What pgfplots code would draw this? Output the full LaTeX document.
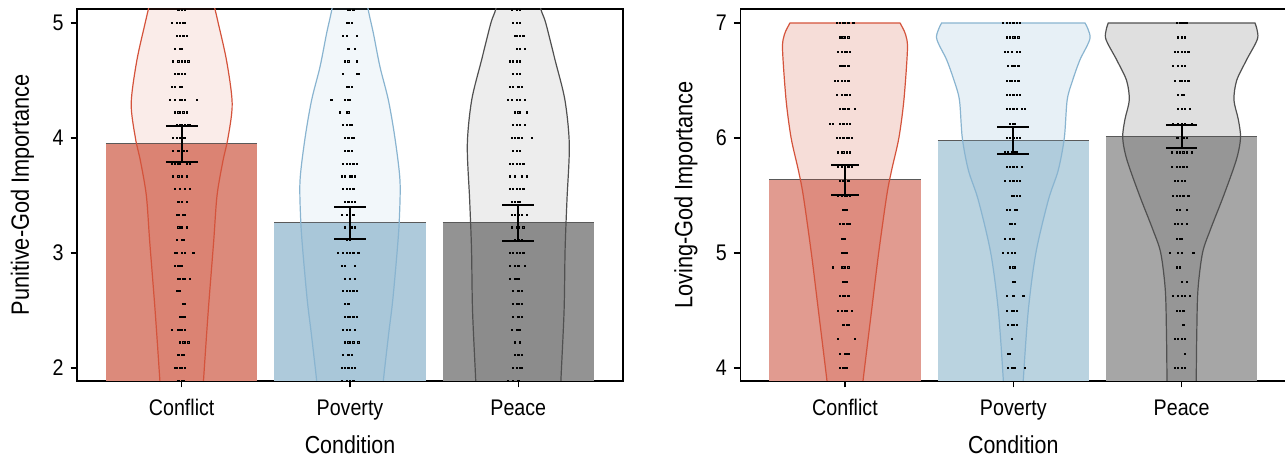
\documentclass[border=0pt]{standalone}
\usepackage{fontspec}
\setmainfont{Liberation Sans}[FakeStretch=0.87]
\usepackage{pgfplots}
\usepackage{pgfplotstable}
\pgfplotsset{compat=1.18}

\definecolor{lcbar}{HTML}{DC8A7B}
\definecolor{lpbar}{HTML}{AECADB}
\definecolor{lebar}{HTML}{939393}
\definecolor{rcbar}{HTML}{E19B90}
\definecolor{rpbar}{HTML}{BAD3E0}
\definecolor{rebar}{HTML}{A6A6A6}
\definecolor{cedge}{HTML}{D4533B}
\definecolor{pedge}{HTML}{89B4D0}
\definecolor{eedge}{HTML}{505050}

% ---------- violin outlines (x y) ----------
\pgfplotstableread{
x y
-0.110 1.4
-0.122 1.7
-0.130 1.9
-0.158 2.5
-0.190 3.1
-0.210 3.5
-0.245 3.8
-0.275 4.0
-0.300 4.3
-0.267 4.67
-0.217 5.0
-0.198 5.12
-0.170 5.3
-0.150 5.6
0.150 5.6
0.170 5.3
0.198 5.12
0.217 5.0
0.267 4.67
0.300 4.3
0.275 4.0
0.245 3.8
0.210 3.5
0.190 3.1
0.158 2.5
0.130 1.9
0.122 1.7
0.110 1.4
}\vLC
\pgfplotstableread{
x y
0.820 1.4
0.810 1.7
0.802 1.887
0.770 2.3
0.746 2.59
0.719 3.03
0.707 3.29
0.703 3.63
0.733 4.0
0.772 4.33
0.822 4.62
0.861 4.91
0.891 5.11
0.910 5.3
0.925 5.6
1.075 5.6
1.090 5.3
1.109 5.11
1.139 4.91
1.178 4.62
1.228 4.33
1.267 4.0
1.297 3.63
1.293 3.29
1.281 3.03
1.254 2.59
1.230 2.3
1.198 1.887
1.190 1.7
1.180 1.4
}\vLP
\pgfplotstableread{
x y
1.755 1.4
1.750 1.7
1.747 1.887
1.728 2.5
1.722 3.03
1.711 3.46
1.697 3.94
1.723 4.33
1.782 4.68
1.837 5.0
1.866 5.12
1.890 5.3
1.910 5.6
2.090 5.6
2.110 5.3
2.134 5.12
2.163 5.0
2.218 4.68
2.277 4.33
2.303 3.94
2.289 3.46
2.278 3.03
2.272 2.5
2.253 1.887
2.250 1.7
2.245 1.4
}\vLE
\pgfplotstableread{
x y
-0.327 7.0
-0.360 6.9
-0.371 6.77
-0.350 6.33
-0.320 6.0
-0.277 5.72
-0.248 5.5
-0.200 5.0
-0.158 4.5
-0.107 3.887
-0.095 3.7
-0.080 3.4
0.080 3.4
0.095 3.7
0.107 3.887
0.158 4.5
0.200 5.0
0.248 5.5
0.277 5.72
0.320 6.0
0.350 6.33
0.371 6.77
0.360 6.9
0.327 7.0
}\vRC
\pgfplotstableread{
x y
0.574 7.0
0.544 6.87
0.604 6.68
0.648 6.5
0.680 6.33
0.697 6.0
0.733 5.72
0.792 5.46
0.866 5.0
0.911 4.5
0.941 3.887
0.945 3.7
0.950 3.4
1.050 3.4
1.055 3.7
1.059 3.887
1.089 4.5
1.134 5.0
1.208 5.46
1.267 5.72
1.303 6.0
1.320 6.33
1.352 6.5
1.396 6.68
1.456 6.87
1.426 7.0
}\vRP
\pgfplotstableread{
x y
1.564 7.0
1.548 6.87
1.614 6.68
1.673 6.5
1.689 6.33
1.663 6.16
1.650 6.0
1.675 5.81
1.750 5.5
1.830 5.2
1.876 5.0
1.903 4.68
1.910 4.3
1.913 3.887
1.913 3.4
2.087 3.4
2.087 3.887
2.090 4.3
2.097 4.68
2.124 5.0
2.170 5.2
2.250 5.5
2.325 5.81
2.350 6.0
2.337 6.16
2.311 6.33
2.327 6.5
2.386 6.68
2.452 6.87
2.436 7.0
}\vRE

% ---------- individual responses: level y, horizontal jitter offsets ----------
\pgfplotstableread{
y a b c d e f
1.889 -0.02 0.00 0.01 nan nan nan
2.000 -0.04 -0.03 -0.01 0.00 0.02 nan
2.111 -0.02 0.00 0.01 nan nan nan
2.222 -0.01 0.01 0.02 0.04 nan nan
2.333 -0.06 -0.02 -0.01 0.00 0.02 nan
2.444 -0.01 0.00 0.01 0.02 nan nan
2.556 0.01 0.02 nan nan nan nan
2.667 -0.03 -0.02 -0.01 nan nan nan
2.778 -0.02 -0.01 0.01 0.02 0.05 nan
2.889 -0.04 -0.02 -0.01 0.00 nan nan
3.000 -0.04 -0.03 0.00 0.02 0.07 nan
3.111 -0.03 0.00 0.01 nan nan nan
3.222 -0.02 -0.01 0.00 0.03 nan nan
3.333 -0.03 -0.02 0.01 0.02 nan nan
3.444 -0.02 0.00 0.03 nan nan nan
3.556 -0.04 -0.01 0.02 0.05 nan nan
3.667 -0.05 -0.02 0.00 0.03 nan nan
3.778 -0.06 -0.04 -0.02 -0.01 0.03 0.05
3.889 -0.05 -0.02 0.00 0.01 0.03 nan
4.000 -0.05 -0.03 -0.01 0.01 0.02 nan
4.111 -0.03 -0.01 0.00 0.02 0.04 0.05
4.222 -0.04 -0.02 -0.01 0.01 0.03 nan
4.333 -0.07 -0.04 -0.01 0.00 0.02 0.09
4.444 -0.06 -0.04 -0.01 0.00 nan nan
4.556 -0.04 -0.02 0.00 0.02 nan nan
4.667 -0.05 -0.02 0.00 0.02 0.04 nan
4.778 -0.04 -0.01 0.00 nan nan nan
4.889 -0.03 -0.01 0.01 0.03 nan nan
5.000 -0.06 -0.03 -0.01 0.01 0.02 nan
5.111 -0.02 0.00 0.02 nan nan nan
}\dLC
\pgfplotstableread{
y a b c d e f
1.889 -0.05 -0.02 0.00 0.02 nan nan
2.000 -0.05 -0.03 -0.01 0.01 0.03 nan
2.111 -0.04 -0.01 0.01 nan nan nan
2.222 -0.03 -0.01 0.00 0.02 0.05 nan
2.333 -0.04 -0.02 0.00 0.03 nan nan
2.444 -0.03 -0.01 0.00 0.02 0.04 nan
2.556 -0.03 -0.01 nan nan nan nan
2.667 -0.04 -0.02 0.00 0.02 0.04 nan
2.778 -0.03 0.00 0.03 nan nan nan
2.889 -0.05 -0.03 0.03 nan nan nan
3.000 -0.07 -0.04 -0.02 0.00 0.02 0.05
3.111 -0.02 0.00 nan nan nan nan
3.222 -0.03 0.01 0.03 nan nan nan
3.333 -0.05 -0.02 0.00 0.02 nan nan
3.444 -0.03 -0.01 0.01 0.03 nan nan
3.556 -0.04 -0.02 0.00 0.02 nan nan
3.667 -0.05 -0.03 0.00 0.01 0.03 nan
3.778 -0.04 -0.02 0.00 0.02 0.04 nan
3.889 -0.03 -0.01 0.01 nan nan nan
4.000 -0.03 -0.01 0.01 0.02 nan nan
4.111 -0.04 -0.02 0.00 0.01 nan nan
4.222 -0.06 -0.02 -0.01 nan nan nan
4.333 -0.11 -0.03 -0.01 0.00 nan nan
4.444 -0.02 -0.01 0.01 nan nan nan
4.556 -0.04 0.04 0.05 nan nan nan
4.667 -0.03 -0.01 0.04 nan nan nan
4.778 -0.01 0.03 nan nan nan nan
4.889 -0.04 -0.02 0.04 nan nan nan
5.000 -0.02 -0.01 0.01 nan nan nan
5.111 -0.01 0.00 0.02 nan nan nan
}\dLP
\pgfplotstableread{
y a b c d e f
1.889 -0.06 -0.03 0.00 nan nan nan
2.000 -0.03 -0.01 0.01 0.02 nan nan
2.111 -0.02 0.00 0.02 nan nan nan
2.222 -0.02 0.01 nan nan nan nan
2.333 -0.04 -0.01 0.00 0.01 nan nan
2.444 -0.03 0.00 0.02 nan nan nan
2.556 -0.03 -0.01 0.00 0.02 nan nan
2.667 -0.03 0.00 0.02 nan nan nan
2.778 -0.05 -0.02 -0.01 0.00 nan nan
2.889 -0.05 -0.02 0.00 0.04 nan nan
3.000 -0.05 -0.03 -0.01 0.01 0.03 nan
3.111 -0.02 0.00 0.02 nan nan nan
3.222 -0.04 -0.01 0.00 0.03 nan nan
3.333 -0.04 -0.02 0.00 0.02 0.05 nan
3.444 -0.04 -0.02 0.00 0.01 nan nan
3.556 -0.05 -0.03 -0.01 0.01 0.03 nan
3.667 -0.05 -0.02 0.02 0.05 nan nan
3.778 -0.05 -0.03 -0.01 0.01 0.03 nan
3.889 -0.03 -0.01 0.01 nan nan nan
4.000 -0.04 -0.02 0.00 0.02 0.08 nan
4.111 -0.03 -0.01 0.01 0.04 nan nan
4.222 -0.02 0.00 0.01 0.05 nan nan
4.333 -0.06 -0.04 -0.01 0.01 0.04 nan
4.444 -0.05 -0.03 0.00 0.02 nan nan
4.556 -0.03 -0.01 0.01 nan nan nan
4.667 -0.05 -0.03 -0.01 0.01 nan nan
4.778 -0.01 0.01 0.04 nan nan nan
4.889 -0.02 -0.01 0.01 0.03 nan nan
5.000 -0.03 -0.01 0.01 nan nan nan
5.111 -0.04 -0.01 0.01 nan nan nan
}\dLE
\pgfplotstableread{
y a b c d e f
4.000 -0.03 -0.01 0.00 0.01 nan nan
4.125 -0.03 0.00 0.01 0.02 nan nan
4.250 -0.04 0.06 nan nan nan nan
4.375 -0.01 0.01 0.02 nan nan nan
4.500 -0.04 -0.02 0.00 0.01 0.04 nan
4.625 -0.03 -0.01 0.00 0.02 nan nan
4.750 -0.01 0.00 0.01 nan nan nan
4.875 -0.07 -0.02 -0.01 0.00 0.02 nan
5.000 -0.02 -0.01 0.00 0.01 nan nan
5.125 -0.02 -0.01 0.00 nan nan nan
5.250 -0.03 -0.01 0.01 0.02 0.03 nan
5.375 -0.01 0.00 0.01 nan nan nan
5.500 -0.04 -0.02 0.00 0.01 0.03 nan
5.625 -0.03 -0.01 0.00 0.02 nan nan
5.750 -0.04 -0.02 0.00 0.02 0.04 nan
5.875 -0.04 -0.02 -0.01 0.01 0.03 nan
6.000 -0.05 -0.03 -0.01 0.01 0.02 0.04
6.125 -0.09 -0.07 -0.03 -0.01 0.01 0.03
6.250 -0.03 -0.01 0.00 0.02 0.06 nan
6.375 -0.05 -0.02 0.00 0.01 0.03 nan
6.500 -0.06 -0.04 -0.02 0.00 0.02 nan
6.625 -0.03 -0.02 -0.01 0.00 0.02 nan
6.750 -0.04 -0.02 0.00 0.01 0.03 nan
6.875 -0.03 -0.02 -0.01 0.00 0.02 nan
7.000 -0.05 -0.03 -0.01 0.00 0.02 0.05
}\dRC
\pgfplotstableread{
y a b c d e f
4.000 -0.03 -0.01 0.00 0.01 0.07 nan
4.125 -0.03 -0.02 nan nan nan nan
4.250 -0.01 nan nan nan nan nan
4.375 -0.03 -0.01 0.00 0.02 nan nan
4.500 -0.04 -0.01 0.00 0.02 nan nan
4.625 -0.04 0.00 0.06 nan nan nan
4.750 0.00 0.01 nan nan nan nan
4.875 -0.02 0.00 0.01 nan nan nan
5.000 -0.06 -0.03 -0.01 0.01 nan nan
5.125 -0.05 -0.02 0.00 nan nan nan
5.250 -0.02 -0.01 0.01 nan nan nan
5.375 -0.04 -0.02 0.01 0.02 nan nan
5.500 -0.01 0.00 0.02 0.04 nan nan
5.625 -0.05 -0.02 0.00 0.02 0.04 nan
5.750 -0.04 -0.02 0.00 0.02 0.05 nan
5.875 -0.05 -0.03 -0.01 0.01 0.02 nan
6.000 -0.04 -0.02 0.00 0.02 0.04 nan
6.125 -0.02 0.00 0.01 nan nan nan
6.250 -0.04 -0.02 0.00 0.02 0.05 0.07
6.375 -0.04 -0.02 0.00 0.02 0.04 nan
6.500 -0.04 -0.02 -0.01 0.01 0.03 nan
6.625 -0.03 -0.01 0.00 0.01 0.03 nan
6.750 -0.05 -0.03 -0.01 0.02 0.04 nan
6.875 -0.04 -0.02 0.00 0.01 0.03 nan
7.000 -0.06 -0.04 -0.02 0.00 0.02 0.04
}\dRP
\pgfplotstableread{
y a b c d e f
4.000 -0.04 -0.02 0.00 0.02 nan nan
4.125 0.02 nan nan nan nan nan
4.250 -0.04 -0.02 0.00 0.02 nan nan
4.375 0.01 nan nan nan nan nan
4.500 -0.03 -0.01 0.01 nan nan nan
4.625 -0.05 -0.02 0.00 0.02 0.05 nan
4.750 0.00 0.03 nan nan nan nan
4.875 -0.03 -0.01 nan nan nan nan
5.000 -0.07 -0.02 0.00 0.07 nan nan
5.125 -0.03 -0.01 0.00 nan nan nan
5.250 -0.04 -0.02 0.00 0.03 nan nan
5.375 -0.03 -0.01 0.03 nan nan nan
5.500 -0.05 -0.03 -0.01 0.01 0.04 nan
5.625 -0.04 -0.02 0.00 0.02 nan nan
5.750 -0.06 -0.03 -0.01 0.01 0.03 nan
5.875 -0.06 -0.03 -0.01 0.01 0.03 0.06
6.000 -0.03 -0.02 0.00 0.01 0.03 nan
6.125 -0.05 -0.02 0.00 0.02 0.06 nan
6.250 -0.02 0.00 0.02 0.05 nan nan
6.375 -0.02 0.00 0.01 nan nan nan
6.500 -0.04 -0.01 0.00 0.02 0.04 nan
6.625 -0.05 -0.02 0.00 0.02 nan nan
6.750 -0.04 -0.02 0.00 0.02 0.04 nan
6.875 -0.02 0.00 0.02 nan nan nan
7.000 -0.03 -0.01 0.00 0.01 0.02 0.03
}\dRE

\pgfplotsset{
  panel/.style={
    scale only axis, width=273pt, height=186pt,
    anchor=south west,
    xmin=-0.622, xmax=2.622,
    xtick={0,1,2}, xticklabels={Conflict,Poverty,Peace},
    xtick pos=bottom, ytick pos=left, tick align=outside,
    major tick length=3.2pt,
    axis line style={line width=0.65pt, black},
    every tick/.append style={line width=0.65pt, black},
    tick label style={font=\fontsize{11.3}{13}\selectfont, black},
    /pgf/number format/assume math mode=true,
    xticklabel style={yshift=-2.5pt},
    xlabel={Condition},
    xlabel style={at={(axis description cs:0.5,-0.196)}, anchor=base,
      font=\fontsize{12.3}{14}\selectfont},
    ylabel style={at={(axis description cs:-0.088,0.5)}, anchor=base,
      font=\fontsize{12.5}{14}\selectfont},
  },
  dotst/.style={only marks, mark=square*, mark size=0.3pt,
    mark options={draw=none, fill=black, fill opacity=0.35}},
  errst/.style={line width=1pt, black, mark=none},
}

\newcommand{\barof}[3]{%
  \addplot[ybar, bar width=0.9, bar shift=0pt, fill=#3, draw=none] coordinates {(#1,#2)};
}
\newcommand{\violin}[3]{%
  \addplot[smooth, draw=#2, line width=0.6pt, fill=#2, fill opacity=#3] table {#1} -- cycle;
}
\newcommand{\dotsof}[2]{%
  \addplot[dotst] table[x expr=\thisrow{a}+#2, y=y] {#1};
  \addplot[dotst] table[x expr=\thisrow{b}+#2, y=y] {#1};
  \addplot[dotst] table[x expr=\thisrow{c}+#2, y=y] {#1};
  \addplot[dotst] table[x expr=\thisrow{d}+#2, y=y] {#1};
  \addplot[dotst] table[x expr=\thisrow{e}+#2, y=y] {#1};
  \addplot[dotst] table[x expr=\thisrow{f}+#2, y=y] {#1};
}
% error bar: centre x, lower, upper, cap left, cap right
\newcommand{\errbar}[5]{%
  \addplot[errst] coordinates {(#1,#2) (#1,#3)};
  \addplot[errst] coordinates {(#4,#2) (#5,#2)};
  \addplot[errst] coordinates {(#4,#3) (#5,#3)};
}

\begin{document}
\begin{tikzpicture}
\useasboundingbox (0,0) rectangle (642.5pt,229.5pt);

% ================= left panel =================
\begin{axis}[panel, at={(38.5pt,39pt)},
  ymin=1.887, ymax=5.122, ytick={2,3,4,5},
  ylabel={Punitive-God Importance}]
  \barof{0}{3.948}{lcbar}
  \barof{1}{3.261}{lpbar}
  \barof{2}{3.261}{lebar}
  \addplot[line width=0.5pt, black!65] coordinates {(-0.45,3.948) (0.45,3.948)};
  \addplot[line width=0.5pt, black!65] coordinates {(0.55,3.261) (1.45,3.261)};
  \addplot[line width=0.5pt, black!65] coordinates {(1.55,3.261) (2.45,3.261)};
  \violin{\vLC}{cedge}{0.11}
  \violin{\vLP}{pedge}{0.11}
  \violin{\vLE}{eedge}{0.10}
  \dotsof{\dLC}{0}
  \dotsof{\dLP}{1}
  \dotsof{\dLE}{2}
  \errbar{0}{3.791}{4.104}{-0.094}{0.094}
  \errbar{1}{3.119}{3.403}{0.906}{1.094}
  \errbar{2}{3.107}{3.415}{1.906}{2.094}
\end{axis}

% ================= right panel =================
\begin{axis}[panel, at={(370.15pt,39pt)},
  ymin=3.887, ymax=7.122, ytick={4,5,6,7},
  ylabel={Loving-God Importance}]
  \barof{0}{5.635}{rcbar}
  \barof{1}{5.980}{rpbar}
  \barof{2}{6.015}{rebar}
  \addplot[line width=0.5pt, black!65] coordinates {(-0.45,5.635) (0.45,5.635)};
  \addplot[line width=0.5pt, black!65] coordinates {(0.55,5.980) (1.45,5.980)};
  \addplot[line width=0.5pt, black!65] coordinates {(1.55,6.015) (2.45,6.015)};
  \violin{\vRC}{cedge}{0.20}
  \violin{\vRP}{pedge}{0.20}
  \violin{\vRE}{eedge}{0.18}
  \dotsof{\dRC}{0}
  \dotsof{\dRP}{1}
  \dotsof{\dRE}{2}
  \errbar{0}{5.508}{5.765}{-0.082}{0.082}
  \errbar{1}{5.861}{6.099}{0.906}{1.094}
  \errbar{2}{5.913}{6.117}{1.906}{2.094}
\end{axis}
\end{tikzpicture}
\end{document}
